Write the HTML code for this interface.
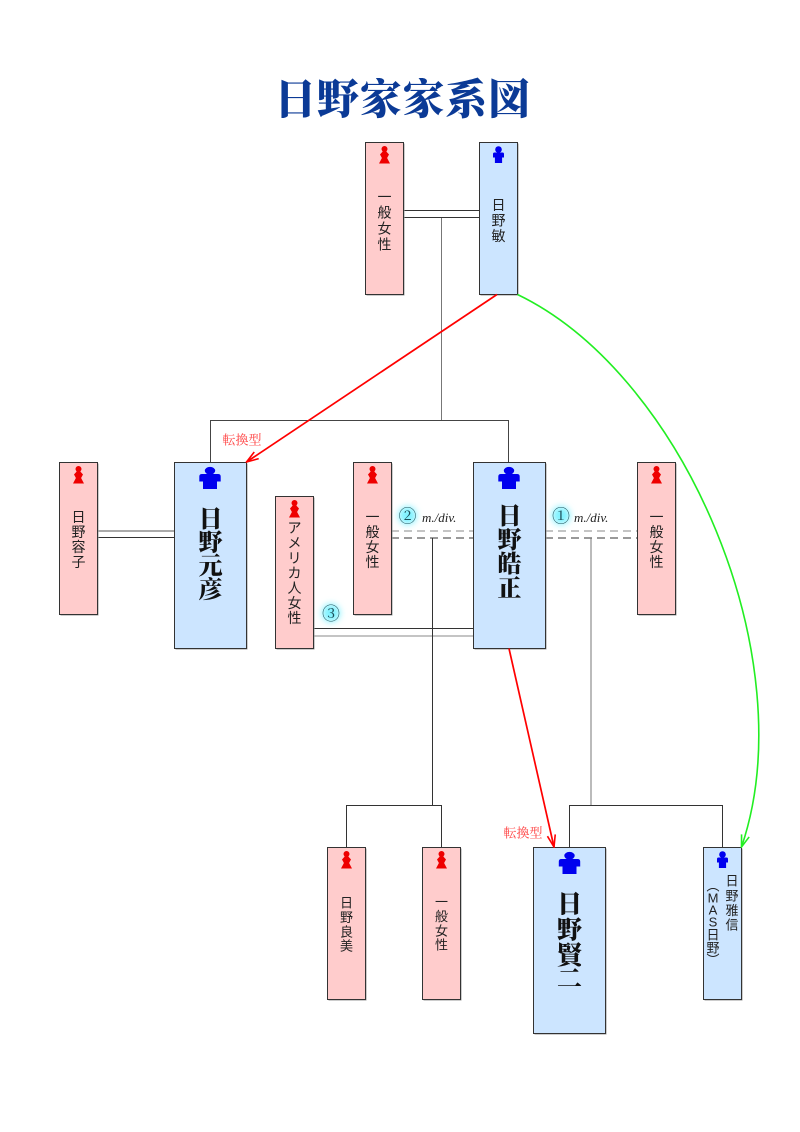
<!DOCTYPE html>
<html><head><meta charset="utf-8"><style>
html,body{margin:0;padding:0;background:#fff;}
svg{display:block;}
.s{font-family:"Liberation Sans","Noto Sans CJK JP",sans-serif;font-size:14px;fill:#222;}
.sb{font-family:"Liberation Sans","Noto Sans CJK JP",sans-serif;font-size:13px;fill:#222;}
.b{font-family:"Liberation Serif","Noto Serif CJK SC",serif;font-weight:900;font-size:24px;fill:#111;}
.red{font-family:"Liberation Serif","Noto Serif CJK SC",serif;font-size:13px;fill:#ff3b3b;}
.md{font-family:"Liberation Serif",serif;font-style:italic;font-size:13px;fill:#222;}
.cn{font-family:"Noto Serif CJK SC","Noto Sans CJK JP",serif;font-size:18px;fill:#1d4f5a;}
</style></head><body>
<svg width="800" height="1132" viewBox="0 0 800 1132" xmlns="http://www.w3.org/2000/svg">
<defs>
<filter id="blur" x="-100%" y="-100%" width="300%" height="300%"><feGaussianBlur stdDeviation="3.5"/></filter>
<marker id="ar" viewBox="0 0 14 10" refX="13" refY="5" markerWidth="14" markerHeight="10" markerUnits="userSpaceOnUse" orient="auto"><path d="M1,1 L13,5 L1,9" fill="none" stroke="#ff0000" stroke-width="1.6"/></marker>
<marker id="ag" viewBox="0 0 14 10" refX="13" refY="5" markerWidth="14" markerHeight="10" markerUnits="userSpaceOnUse" orient="auto"><path d="M1,1 L13,5 L1,9" fill="none" stroke="#22ee22" stroke-width="1.6"/></marker>
<g id="fem" fill="#ee0000"><circle cx="0" cy="3" r="3"/><path d="M-1.8,5.5 L1.8,5.5 L4.5,8.5 L2.6,12 L5.5,17.5 L-5.5,17.5 L-2.6,12 L-4.5,8.5 Z"/></g>
<g id="mal" fill="#0000ee"><circle cx="0" cy="3.5" r="3.3"/><path d="M-4,6.5 Q-5.5,6.5 -5.5,8 L-5.5,11.5 L-3.6,11.5 L-3.6,17 L3.6,17 L3.6,11.5 L5.5,11.5 L5.5,8 Q5.5,6.5 4,6.5 Z"/></g>
<g id="malb" fill="#0000ee"><ellipse cx="0" cy="3.8" rx="5.2" ry="3.9"/><path d="M-8,7 Q-10.7,7 -10.7,9.5 L-10.7,14.5 L-7,14.5 L-7,22 L7,22 L7,14.5 L10.7,14.5 L10.7,9.5 Q10.7,7 8,7 Z"/></g>
</defs>

<!-- title -->
<text x="402.5" y="101" text-anchor="middle" dominant-baseline="central" style="font-family:'Liberation Serif','Noto Serif CJK SC',serif;font-weight:900;font-size:42px;letter-spacing:0.8px;fill:#0b3a96;">日野家家系図</text>

<!-- connector lines -->
<g fill="none" stroke-width="1">
<line x1="403" y1="210.5" x2="479" y2="210.5" stroke="#333"/>
<line x1="403" y1="217.5" x2="479" y2="217.5" stroke="#333"/>
<line x1="441.5" y1="218" x2="441.5" y2="420.5" stroke="#777"/>
<polyline points="210.5,462 210.5,420.5 508.5,420.5 508.5,462" stroke="#444"/>
<line x1="97" y1="531" x2="174" y2="531" stroke="#555"/>
<line x1="97" y1="537.5" x2="174" y2="537.5" stroke="#333"/>
<line x1="391" y1="531" x2="473" y2="531" stroke="#888" stroke-dasharray="8,5"/>
<line x1="391" y1="538" x2="473" y2="538" stroke="#333" stroke-dasharray="8,5"/>
<line x1="545" y1="531" x2="637" y2="531" stroke="#888" stroke-dasharray="8,5"/>
<line x1="545" y1="538" x2="637" y2="538" stroke="#333" stroke-dasharray="8,5"/>
<line x1="313" y1="628.5" x2="473" y2="628.5" stroke="#333"/>
<line x1="313" y1="636" x2="473" y2="636" stroke="#888"/>
<line x1="432.5" y1="538" x2="432.5" y2="805.5" stroke="#333"/>
<polyline points="346.5,847 346.5,805.5 441.5,805.5 441.5,847" stroke="#333"/>
<line x1="591" y1="538" x2="591" y2="805.5" stroke="#777"/>
<polyline points="569.5,847 569.5,805.5 722.5,805.5 722.5,847" stroke="#333"/>
</g>

<!-- boxes: shadow + box -->
<g stroke="none" fill="#9a9a9a">
<rect x="366.5" y="143.5" width="38" height="152"/>
<rect x="480.5" y="143.5" width="38" height="152"/>
<rect x="60.5" y="463.5" width="38" height="152"/>
<rect x="175.5" y="463.5" width="72" height="186"/>
<rect x="276.5" y="497.5" width="38" height="152"/>
<rect x="354.5" y="463.5" width="38" height="152"/>
<rect x="474.5" y="463.5" width="72" height="186"/>
<rect x="638.5" y="463.5" width="38" height="152"/>
<rect x="328.5" y="848.5" width="38" height="152"/>
<rect x="423.5" y="848.5" width="38" height="152"/>
<rect x="534.5" y="848.5" width="72" height="186"/>
<rect x="704.5" y="848.5" width="38" height="152"/>
</g>
<g stroke="#333" stroke-width="1">
<rect x="365.5" y="142.5" width="38" height="152" fill="#ffcccc"/>
<rect x="479.5" y="142.5" width="38" height="152" fill="#cce5ff"/>
<rect x="59.5" y="462.5" width="38" height="152" fill="#ffcccc"/>
<rect x="174.5" y="462.5" width="72" height="186" fill="#cce5ff"/>
<rect x="275.5" y="496.5" width="38" height="152" fill="#ffcccc"/>
<rect x="353.5" y="462.5" width="38" height="152" fill="#ffcccc"/>
<rect x="473.5" y="462.5" width="72" height="186" fill="#cce5ff"/>
<rect x="637.5" y="462.5" width="38" height="152" fill="#ffcccc"/>
<rect x="327.5" y="847.5" width="38" height="152" fill="#ffcccc"/>
<rect x="422.5" y="847.5" width="38" height="152" fill="#ffcccc"/>
<rect x="533.5" y="847.5" width="72" height="186" fill="#cce5ff"/>
<rect x="703.5" y="847.5" width="38" height="152" fill="#cce5ff"/>
</g>

<!-- icons -->
<use href="#fem" x="384.5" y="146"/>
<use href="#mal" x="498.5" y="146"/>
<use href="#fem" x="78.5" y="466"/>
<use href="#malb" x="210" y="467"/>
<use href="#fem" x="294.5" y="500"/>
<use href="#fem" x="372.5" y="466"/>
<use href="#malb" x="509" y="467"/>
<use href="#fem" x="656.5" y="466"/>
<use href="#fem" x="346.5" y="851"/>
<use href="#fem" x="441.5" y="851"/>
<use href="#malb" x="569.5" y="852"/>
<use href="#mal" x="722.5" y="851"/>

<!-- box labels -->
<g text-anchor="middle" dominant-baseline="central">
<g class="s">
<text x="384.5" y="197">一</text><text x="384.5" y="212.5">般</text><text x="384.5" y="228.5">女</text><text x="384.5" y="244.5">性</text>
<text x="498.5" y="205">日</text><text x="498.5" y="220.5">野</text><text x="498.5" y="236">敏</text>
<text x="78.5" y="517">日</text><text x="78.5" y="532">野</text><text x="78.5" y="547">容</text><text x="78.5" y="562">子</text>
<text x="294.5" y="528">ア</text><text x="294.5" y="543">メ</text><text x="294.5" y="558">リ</text><text x="294.5" y="573">カ</text><text x="294.5" y="588">人</text><text x="294.5" y="603">女</text><text x="294.5" y="618">性</text>
<text x="372.5" y="517">一</text><text x="372.5" y="532">般</text><text x="372.5" y="547">女</text><text x="372.5" y="562">性</text>
<text x="656.5" y="517">一</text><text x="656.5" y="532">般</text><text x="656.5" y="547">女</text><text x="656.5" y="562">性</text>
</g>
<g class="sb">
<text x="346.5" y="903">日</text><text x="346.5" y="917.5">野</text><text x="346.5" y="932">良</text><text x="346.5" y="946">美</text>
<text x="441.5" y="902">一</text><text x="441.5" y="916.5">般</text><text x="441.5" y="931">女</text><text x="441.5" y="945">性</text>
<text x="732" y="881">日</text><text x="732" y="896">野</text><text x="732" y="910.5">雅</text><text x="732" y="925">信</text>
<text x="713" y="886">︵</text><text x="713" y="898">M</text><text x="713" y="910">A</text><text x="713" y="922">S</text><text x="713" y="935">日</text><text x="713" y="948">野</text><text x="713" y="960">︶</text>
</g>
<g class="b">
<text x="210.5" y="520">日</text><text x="210.5" y="543.5">野</text><text x="210.5" y="567">元</text><text x="210.5" y="590.5">彦</text>
<text x="509.5" y="517">日</text><text x="509.5" y="541">野</text><text x="509.5" y="565">皓</text><text x="509.5" y="589.5">正</text>
<text x="569.5" y="905" style="font-size:25px">日</text><text x="569.5" y="931" style="font-size:25px">野</text><text x="569.5" y="956.5" style="font-size:25px">賢</text><text x="569.5" y="980" style="font-size:25px">二</text>
</g>
</g>

<!-- circled numbers with glow -->
<g fill="#7ff2ff" filter="url(#blur)">
<circle cx="407.5" cy="515.5" r="9"/>
<circle cx="561" cy="515.5" r="9"/>
<circle cx="331" cy="613" r="9"/>
</g>
<g text-anchor="middle" dominant-baseline="central" class="cn">
<text x="407.5" y="515.5">②</text>
<text x="561" y="515.5">①</text>
<text x="331" y="613">③</text>
</g>
<text x="422" y="522" class="md">m./div.</text>
<text x="574" y="522" class="md">m./div.</text>

<!-- conversion labels -->
<text x="242" y="440" text-anchor="middle" dominant-baseline="central" class="red">転換型</text>
<text x="523" y="833" text-anchor="middle" dominant-baseline="central" class="red">転換型</text>

<!-- arrows -->
<line x1="497" y1="294.5" x2="246.5" y2="462" stroke="#ff0000" stroke-width="1.7" marker-end="url(#ar)"/>
<line x1="509" y1="648.5" x2="554" y2="847" stroke="#ff0000" stroke-width="1.7" marker-end="url(#ar)"/>
<path d="M517.5,294.5 C685,375 805,660 741.5,847" fill="none" stroke="#22ee22" stroke-width="1.6" marker-end="url(#ag)"/>
</svg>
</body></html>
